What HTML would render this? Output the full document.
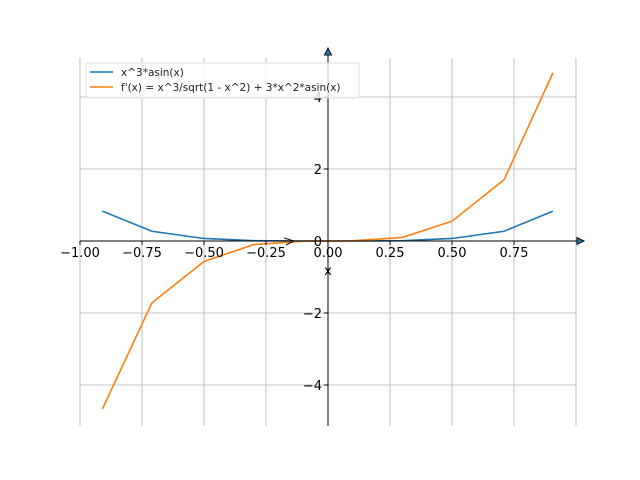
<!DOCTYPE html>
<html><head><meta charset="utf-8"><style>body{margin:0;background:#fff}svg{display:block;font-family:"DejaVu Sans","Liberation Sans",sans-serif}</style></head>
<body>
<svg id="chart" width="640" height="480" viewBox="0 0 640 480" xmlns="http://www.w3.org/2000/svg">
<g id="grid"></g>
<g id="series"></g>
<g id="axes"></g>
<g id="legend">
<rect x="86" y="63" width="273" height="35" fill="#fff" fill-opacity="0.8" stroke="#ddd" rx="2"/>
<line x1="90" y1="72" x2="113" y2="72" stroke="#1f77b4" stroke-width="1.6"/>
<text x="121" y="76" font-size="10.5" fill="#222">x^3*asin(x)</text>
<line x1="90" y1="87" x2="113" y2="87" stroke="#ff7f0e" stroke-width="1.6"/>
<text x="121" y="91" font-size="10.5" fill="#222">f'(x) = x^3/sqrt(1 - x^2) + 3*x^2*asin(x)</text>
</g>
</svg>
<script>
const xs = [-0.91,-0.71,-0.5,-0.3,-0.1,0.1,0.3,0.5,0.71,0.907];
const fVals = [0.83,0.27,0.07,0.008,0.0001,0.0001,0.008,0.07,0.27,0.83];
const dVals = [-4.67,-1.72,-0.57,-0.1,-0.004,0.004,0.1,0.55,1.7,4.67];
const xTicks = [-1,-0.75,-0.5,-0.25,0,0.25,0.5,0.75];
const xTickLabels = ["\u22121.00","\u22120.75","\u22120.50","\u22120.25","0.00","0.25","0.50","0.75"];
const yTicks = [-4,-2,0,2,4];
const yTickLabels = ["\u22124","\u22122","0","2","4"];
const X = v => 328 + v*248;
const Y = v => 241 - v*36;
const NS = "http://www.w3.org/2000/svg";
function mk(tag, attrs, parent){const e=document.createElementNS(NS,tag);for(const k in attrs)e.setAttribute(k,attrs[k]);parent.appendChild(e);return e;}
const grid=document.getElementById('grid'), ser=document.getElementById('series'), ax=document.getElementById('axes');
[-1,-0.75,-0.5,-0.25,0,0.25,0.5,0.75,1].forEach(v=>{
  const l=mk('line',{x1:X(v),x2:X(v),y1:58,y2:426,stroke:'#b0b0b0','stroke-width':0.8},grid);
  
  
});
yTicks.forEach(v=>{
  const l=mk('line',{x1:80,x2:576,y1:Y(v),y2:Y(v),stroke:'#b0b0b0','stroke-width':0.8},grid);
  
  
});
function line(vals,color,name){
  const p=mk('polyline',{points:xs.map((x,i)=>X(x)+','+Y(vals[i])).join(' '),fill:'none',stroke:color,'stroke-width':1.6},ser);
  
  
}
line(fVals,'#1f77b4','line-fx');
line(dVals,'#ff7f0e','line-dfx');
const xa=mk('line',{x1:80,x2:584,y1:241,y2:241,stroke:'#000','stroke-width':1},ax);


const ya=mk('line',{x1:328,x2:328,y1:50,y2:426,stroke:'#000','stroke-width':1},ax);


const xarr=mk('path',{d:'M584,241 L577,237.5 L577,244.5 Z',fill:'#1f77b4',stroke:'#111','stroke-width':1},ax);


const yarr=mk('path',{d:'M328,48 L324.5,55 L331.5,55 Z',fill:'#1f77b4',stroke:'#111','stroke-width':1},ax);


const marr=mk('path',{d:'M284,238 L294,241 L286,245',fill:'none',stroke:'#111','stroke-width':1},ax);


xTicks.forEach((v,i)=>{
  mk('line',{x1:X(v),x2:X(v),y1:241,y2:245,stroke:'#000'},ax);
  const t=mk('text',{x:X(v),y:257,'font-size':13,'text-anchor':'middle',fill:'#000'},ax);
  t.textContent=xTickLabels[i];
  
  
});
yTicks.forEach((v,i)=>{
  mk('line',{x1:324,x2:328,y1:Y(v),y2:Y(v),stroke:'#000'},ax);
  const t=mk('text',{x:322,y:Y(v)+5,'font-size':13,'text-anchor':'end',fill:'#000'},ax);
  t.textContent=yTickLabels[i];
  
  
});
const xl=mk('text',{x:328,y:275,'font-size':13,'text-anchor':'middle',fill:'#000'},ax);
xl.textContent='x';


</script>
</body></html>
